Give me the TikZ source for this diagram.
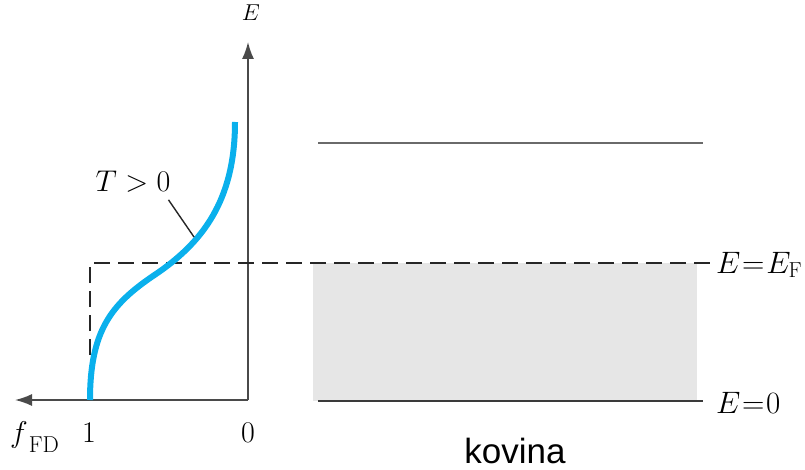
\RequirePackage{fix-cm}
\documentclass[tikz,border=0pt]{standalone}
\usepackage{fontspec}
\newfontfamily\kovfont{Liberation Sans}
\usetikzlibrary{arrows.meta}
\definecolor{axisgray}{HTML}{4A4A4A}
\definecolor{levelgray}{HTML}{6A6A6A}
\definecolor{leveldark}{HTML}{3A3A3A}
\definecolor{bandgray}{HTML}{E6E6E6}
\definecolor{fdblue}{HTML}{0AB0EC}
\begin{document}
\begin{tikzpicture}[x=1pt,y=-1pt,
  axis/.style={draw=axisgray, line width=1.6pt, -{Latex[length=17pt,width=12pt]}},
  levelline/.style={draw=levelgray, line width=2.6pt},
  bottomline/.style={draw=leveldark, line width=2.6pt},
  dashline/.style={draw=black!85, line width=1.8pt, dash pattern=on 16pt off 8pt},
  fdcurve/.style={draw=fdblue, line width=6pt},
  leader/.style={draw=black!85, line width=1.4pt},
  mlabel/.style={inner sep=0pt, font=\fontsize{30}{36}\selectfont},
  elabel/.style={inner sep=0pt, font=\fontsize{31}{38}\selectfont},
  smalllabel/.style={inner sep=0pt, font=\fontsize{23}{28}\selectfont},
  kovlabel/.style={inner sep=0pt, font=\kovfont\fontsize{35}{42}\selectfont}]
\useasboundingbox (0,0) rectangle (805,470);
% band and levels
\fill[bandgray] (313,263) rectangle (697,401);
\draw[levelline] (318,143) -- (703,143);
\draw[bottomline] (318,401) -- (703,401);
% axes
\coordinate (O) at (248,400);
\coordinate (Etip) at (248,42);
\coordinate (ftip) at (15,400);
\draw[axis] (O) -- (Etip);
\draw[axis] (O) -- (ftip);
% dashed Fermi level
\coordinate (dA) at (90,355);
\coordinate (dB) at (90,263);
\coordinate (dC) at (713,263);
\draw[dashline] (dA) -- (dB) -- (dC);
% Fermi-Dirac curve
\coordinate (c0) at (90,400);
\coordinate (c1) at (153,276);
\coordinate (c2) at (235,122);
\draw[fdcurve] (c0) .. controls (90,330) and (112,304) .. (c1)
  .. controls (203,243) and (235,200) .. (c2);
% labels
\node[smalllabel, anchor=base] (Elab) at (251,21) {$E$};
\node[mlabel, anchor=base] (one) at (89,442) {$1$};
\node[mlabel, anchor=base] (zero) at (248,442) {$0$};
\node[mlabel, anchor=base west] (fFD) at (10,442) {$f$\hspace{1pt}\raisebox{-10pt}{\fontsize{23}{26}\selectfont FD}};
\node[mlabel] (T) at (133,182) {$T>0$};
\coordinate (tc) at (194,237);
\draw[leader] (T.south east) ++(-2,7) coordinate (ts) -- (tc);
\node[elabel, anchor=base west] (EF) at (716,273) {$E\mkern1mu{=}\mkern1mu E_{\mathrm F}$};
\node[elabel, anchor=base west] (E0) at (716,413) {$E\mkern1mu{=}\mkern1mu 0$};
\node[kovlabel, anchor=base] (kov) at (515,463) {kovina};
\end{tikzpicture}
\end{document}
